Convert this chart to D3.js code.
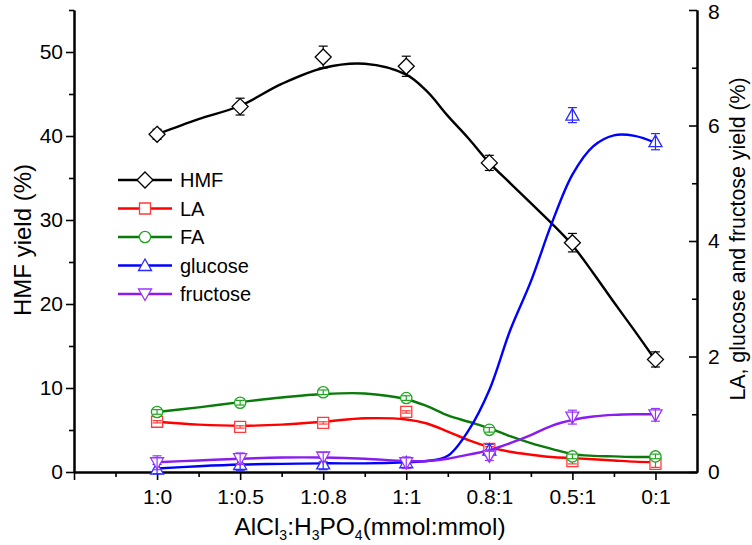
<!DOCTYPE html>
<html><head><meta charset="utf-8">
<script src="https://cdn.jsdelivr.net/npm/d3@7"></script>
<style>
html,body{margin:0;padding:0;background:#fff;}
svg{display:block;font-family:"Liberation Sans",Arial,Helvetica,sans-serif;}
</style></head>
<body>
<svg id="chart" width="752" height="545"></svg>
<script>
// ---- data ----
const categories = ["1:0","1:0.5","1:0.8","1:1","0.8:1","0.5:1","0:1"];
const hmf        = [40.2, 43.5, 49.4, 48.3, 36.8, 27.3, 13.4];
const hmfErr     = [0.6, 1.0, 1.3, 1.2, 0.9, 1.1, 0.9];
const la         = [0.87, 0.78, 0.85, 1.04, 0.40, 0.19, 0.14];
const laErr      = [0.02, 0.02, 0.02, 0.02, 0.04, 0.05, 0.06];
const fa         = [1.04, 1.20, 1.38, 1.28, 0.73, 0.27, 0.27];
const faErr      = [0.04, 0.04, 0.04, 0.04, 0.04, 0.04, 0.04];
const glucose    = [0.05, 0.13, 0.14, 0.16, 0.38, 6.18, 5.72];
const glucoseErr = [0.08, 0.10, 0.10, 0.08, 0.10, 0.13, 0.14];
const fructose   = [0.16, 0.23, 0.26, 0.16, 0.28, 0.95, 0.99];
const fructoseErr= [0.12, 0.10, 0.08, 0.10, 0.08, 0.12, 0.11];

// fitted curves (category index positions)
const fitPos      = [0,0.5,1,1.5,2,2.5,3,3.25,3.5,3.75,4,4.25,4.5,4.75,5,5.25,5.5,5.75,6];
const hmfFit      = [40.2,42.0,43.6,46.2,48.1,48.6,47.3,45.3,42.4,39.7,36.8,34.4,32.0,29.6,27.0,23.7,20.2,16.8,13.3];
const laFit       = [0.87,0.82,0.80,0.82,0.87,0.93,0.91,0.84,0.70,0.55,0.43,0.35,0.30,0.26,0.24,0.22,0.20,0.18,0.17];
const faFit       = [1.04,1.12,1.21,1.29,1.35,1.36,1.26,1.14,0.98,0.87,0.76,0.62,0.50,0.40,0.31,0.28,0.27,0.26,0.26];
const glucoseFit  = [0.06,0.10,0.13,0.14,0.15,0.15,0.17,0.19,0.28,0.72,1.42,2.45,3.30,4.30,5.15,5.64,5.83,5.82,5.70];
const fructoseFit = [0.17,0.20,0.23,0.25,0.25,0.23,0.19,0.19,0.23,0.30,0.38,0.50,0.64,0.80,0.90,0.96,0.99,1.00,1.00];

const leftTicks  = [0,10,20,30,40,50];
const rightTicks = [0,2,4,6,8];

// ---- layout ----
const svg = d3.select("#chart");
const X0 = 74, X1 = 697, YB = 472, YT = 10;
const x  = d3.scaleLinear().domain([-1, 6.5]).range([X0, X1]);
const yL = d3.scaleLinear().domain([0, 55]).range([YB, YT]);
const yR = d3.scaleLinear().domain([0, 8]).range([YB, YT]);

const tickFont = 21;

// left axis
const gL = svg.append("g").attr("transform", `translate(${X0},0)`);
gL.call(d3.axisLeft(yL).tickValues(leftTicks).tickSize(8).tickPadding(3).tickSizeOuter(0));
gL.append("g").call(d3.axisLeft(yL).tickValues(d3.range(5, 56, 10)).tickSize(5).tickFormat("").tickSizeOuter(0));
// right axis
const gR = svg.append("g").attr("transform", `translate(${X1},0)`);
gR.call(d3.axisRight(yR).tickValues(rightTicks).tickSize(-8).tickPadding(11).tickSizeOuter(0));
gR.append("g").call(d3.axisRight(yR).tickValues([1,3,5,7]).tickSize(-5).tickFormat("").tickSizeOuter(0));
// bottom axis
const gB = svg.append("g").attr("transform", `translate(0,${YB})`);
gB.call(d3.axisBottom(x).tickValues(d3.range(-1, 7)).tickSize(8).tickPadding(9)
  .tickFormat(d => d >= 0 ? categories[d] : "").tickSizeOuter(0));
gB.append("g").call(d3.axisBottom(x).tickValues(d3.range(-0.5, 6, 1)).tickSize(5).tickFormat("").tickSizeOuter(0));

svg.selectAll(".domain").attr("stroke", "#000").attr("stroke-width", 2);
svg.selectAll(".tick line").attr("stroke", "#000").attr("stroke-width", 1.6);
svg.selectAll(".tick text").attr("font-size", tickFont).attr("fill", "#000")
  .attr("font-family", "Liberation Sans, Arial, sans-serif");
// keep the top right label inside the frame
gR.selectAll(".tick text").filter(d => d === 8).attr("dy", "0.42em");

// axis titles
svg.append("text").attr("transform", `translate(31,240) rotate(-90)`)
  .attr("text-anchor", "middle").attr("font-size", 24).text("HMF yield (%)");
svg.append("text").attr("transform", `translate(745,239) rotate(-90)`)
  .attr("text-anchor", "middle").attr("font-size", 21.3).text("LA, glucose and fructose yield (%)");
const xt = svg.append("text").attr("x", 370).attr("y", 535).attr("text-anchor", "middle").attr("font-size", 24.5);
const subParts = [["AlCl",0],["3",1],[":H",0],["3",1],["PO",0],["4",1],["(mmol:mmol)",0]];
subParts.forEach(([t, s], i) => {
  const ts = xt.append("tspan").text(t);
  if (s) ts.attr("font-size", 14).attr("dy", 5);
  else if (i > 0 && subParts[i-1][1]) ts.attr("dy", -5);
});

// ---- series ----
const markerPaths = {
  diamond: "M0,-8L8,0L0,8L-8,0Z",
  square: "M-5.5,-5.5H5.5V5.5H-5.5Z",
  circle: d3.symbol(d3.symbolCircle, 100)(),
  up: "M0,-6.5L6.5,5L-6.5,5Z",
  down: "M0,6.5L6.5,-5L-6.5,-5Z"
};

const series = [
  {name:"HMF", vals:hmf, err:hmfErr, fit:hmfFit, y:yL, line:"#000000", mark:"#000000", shape:"diamond", errTop:false},
  {name:"LA", vals:la, err:laErr, fit:laFit, y:yR, line:"#ff0000", mark:"#ff3a3a", shape:"square", errTop:true},
  {name:"FA", vals:fa, err:faErr, fit:faFit, y:yR, line:"#0a7a0a", mark:"#1fa51f", shape:"circle", errTop:true},
  {name:"glucose", vals:glucose, err:glucoseErr, fit:glucoseFit, y:yR, line:"#0000ff", mark:"#2a2aff", shape:"up", errTop:true},
  {name:"fructose", vals:fructose, err:fructoseErr, fit:fructoseFit, y:yR, line:"#8a1cf0", mark:"#9a33ff", shape:"down", errTop:true}
];

const lineGen = (yS) => d3.line().x((d,i) => x(fitPos[i])).y(d => yS(d)).curve(d3.curveCatmullRom.alpha(0.5));

function drawErr(g, s) {
  const eb = g.selectAll("g.eb").data(s.vals).enter().append("g").attr("class", "eb");
  eb.append("line").attr("x1", (d,i) => x(i)).attr("x2", (d,i) => x(i))
    .attr("y1", (d,i) => s.y(d - s.err[i])).attr("y2", (d,i) => s.y(d + s.err[i]))
    .attr("stroke", s.mark).attr("stroke-width", 1.2);
  [-1, 1].forEach(sg => {
    eb.append("line").attr("x1", (d,i) => x(i) - 4.5).attr("x2", (d,i) => x(i) + 4.5)
      .attr("y1", (d,i) => s.y(d + sg * s.err[i])).attr("y2", (d,i) => s.y(d + sg * s.err[i]))
      .attr("stroke", s.mark).attr("stroke-width", 1.2);
  });
}

series.forEach(s => {
  const g = svg.append("g");
  g.append("path").datum(s.fit).attr("d", lineGen(s.y))
    .attr("fill", "none").attr("stroke", s.line).attr("stroke-width", 2.4);
  if (!s.errTop) drawErr(g, s);
  g.selectAll("path.mk").data(s.vals).enter().append("path").attr("class", "mk")
    .attr("d", markerPaths[s.shape])
    .attr("transform", (d,i) => `translate(${x(i)},${s.y(d)})`)
    .attr("fill", "#fff").attr("stroke", s.mark).attr("stroke-width", 1.3);
  if (s.errTop) drawErr(g, s);
});

// ---- legend ----
const lg = svg.append("g");
series.forEach((s, i) => {
  const yy = 180 + i * 28.5;
  lg.append("line").attr("x1", 118).attr("x2", 172).attr("y1", yy).attr("y2", yy)
    .attr("stroke", s.line).attr("stroke-width", 2.4);
  lg.append("path").attr("d", markerPaths[s.shape]).attr("transform", `translate(145,${yy})`)
    .attr("fill", "#fff").attr("stroke", s.mark).attr("stroke-width", 1.3);
  lg.append("text").attr("x", 180).attr("y", yy).attr("dy", "0.36em")
    .attr("font-size", 20).attr("fill", "#000").text(s.name);
});
</script>
</body></html>
